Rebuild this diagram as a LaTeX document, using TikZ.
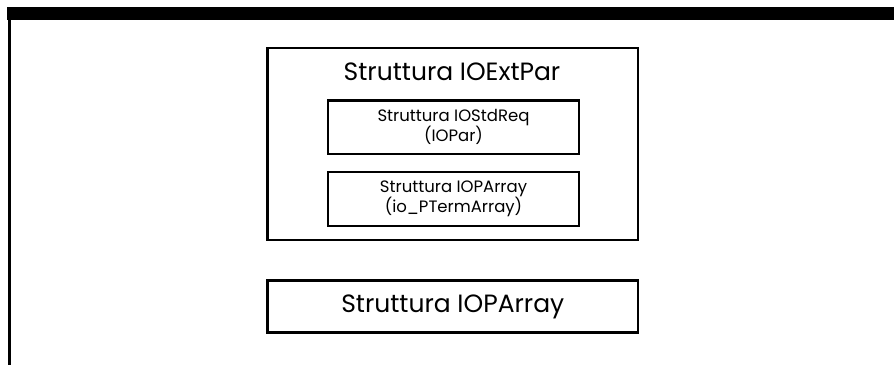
\documentclass[tikz,border=0pt]{standalone}
\usepackage{fontspec}
\setmainfont{Poppins}
\begin{document}
\begin{tikzpicture}[x=1pt,y=1pt,
  box/.style={draw=black, line width=2.8pt, fill=none, inner sep=0pt},
  big/.style={font=\fontsize{25}{30}\selectfont},
  small/.style={font=\fontsize{16.5}{20}\selectfont, align=center}]
\useasboundingbox (0,0) rectangle (894,365);
% frame
\fill[black] (7,345) rectangle (894,358);
\draw[line width=2.5pt] (9.5,346) -- (9.5,0);
% outer box
\node[box, minimum width=370.5pt, minimum height=192pt] (ext) at (452.75,221) {};
\node[big, anchor=base] (title) at (452,284) {Struttura IOExtPar};
\node[box, small, minimum width=251pt, minimum height=53.5pt] (req) at (453.5,237.75) {Struttura IOStdReq\\(IOPar)};
\node[box, small, minimum width=251pt, minimum height=54pt] (arr) at (453.5,166) {Struttura IOPArray\\(io\_PTermArray)};
% bottom box
\node[box, big, minimum width=370.5pt, minimum height=52pt] (parr) at (452.75,58.5) {Struttura IOPArray};
\end{tikzpicture}
\end{document}
